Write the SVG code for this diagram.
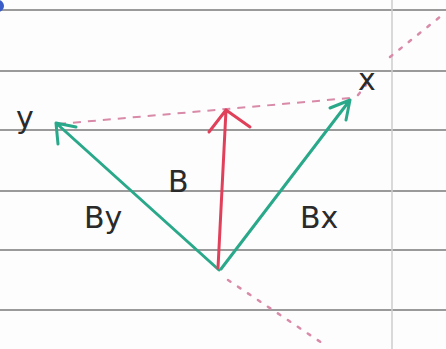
<svg xmlns="http://www.w3.org/2000/svg" width="446" height="349" viewBox="0 0 446 349">
<style>
.rule{stroke:#9a9a9a;stroke-width:1.8}
.margin{stroke:#cccccc;stroke-width:1.5}
.green{stroke:#2aa98a;stroke-width:3;fill:none;stroke-linecap:round}
.red{stroke:#e0405a;stroke-width:3;fill:none;stroke-linecap:round}
.dash{stroke:#d98aa8;stroke-width:2;fill:none;stroke-dasharray:8 7}
.dot{stroke:#d98aa8;stroke-width:2.5;fill:none;stroke-dasharray:3 9;stroke-linecap:round}
.lbl{font-family:"DejaVu Sans",sans-serif;fill:#2a2a2a;font-size:30px}
</style>
<rect width="446" height="349" fill="#fdfdfd"/>
<g id="paper">
<line class="rule" x1="0" y1="10" x2="446" y2="10"/>
<line class="rule" x1="0" y1="71" x2="446" y2="71"/>
<line class="rule" x1="0" y1="130" x2="446" y2="130"/>
<line class="rule" x1="0" y1="191" x2="446" y2="191"/>
<line class="rule" x1="0" y1="250" x2="446" y2="250"/>
<line class="rule" x1="0" y1="310" x2="446" y2="310"/>
<line class="margin" x1="392" y1="0" x2="392" y2="349"/>
<circle cx="-2" cy="6" r="6" fill="#3a5cc8"/>
</g>
<g id="connectors">
<line class="dash" x1="58" y1="124" x2="350" y2="98"/>
<line class="dot" x1="358" y1="95" x2="366" y2="85"/>
<line class="dot" x1="390" y1="57" x2="446" y2="12"/>
<line class="dot" x1="228" y1="280" x2="322" y2="343"/>
<path class="green" d="M219 270 L56 123 M56 123 L58 144 M56 123 L76 127"/>
<path class="green" d="M221 269 L350 100 M350 100 L330 108 M350 100 L346 120"/>
<path class="red" d="M218 268 L226 110 M226 110 L209 132 M226 110 L250 127"/>
</g>
<g id="label-y"><text class="lbl" x="16" y="128">y</text></g>
<g id="label-x"><text class="lbl" x="358" y="90">x</text></g>
<g id="label-B"><text class="lbl" x="168" y="192">B</text></g>
<g id="label-By"><text class="lbl" x="84" y="228">By</text></g>
<g id="label-Bx"><text class="lbl" x="300" y="228">Bx</text></g>
</svg>
